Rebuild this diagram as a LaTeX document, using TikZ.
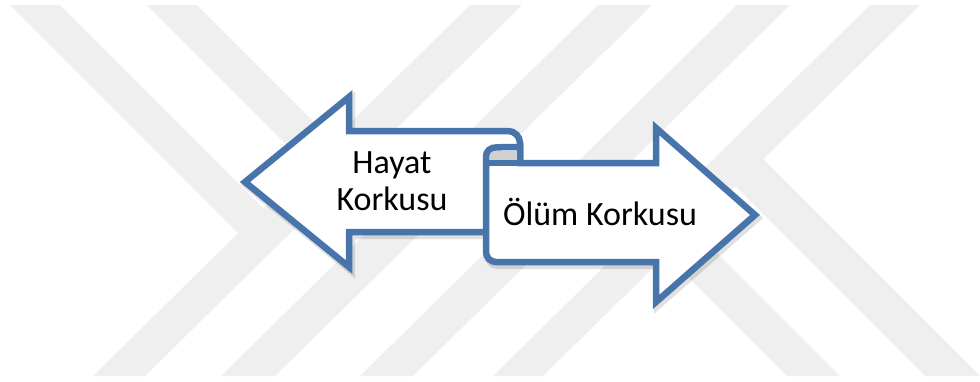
\documentclass[tikz,border=0pt]{standalone}
\usepackage{fontspec}
\setmainfont{Carlito}
\definecolor{wm}{RGB}{239,239,239}
\definecolor{ablue}{RGB}{71,116,171}
\definecolor{rollgray}{RGB}{208,208,208}
\begin{document}
\begin{tikzpicture}[x=1pt,y=-1pt,
  band/.style={fill=wm},
  arrowline/.style={draw=ablue,line width=6.5pt,line join=miter,miter limit=10},
  shadowline/.style={draw=black,opacity=0.12,line width=8pt,line join=miter,miter limit=10},
  lbl/.style={font=\fontsize{34}{40}\selectfont,text=black,inner sep=0pt}]
\useasboundingbox (0,0) rectangle (980,381);
\fill[white] (0,0) rectangle (980,381);
% ---- watermark ----
\begin{scope}
\clip (0,5) rectangle (980,376);
\fill[band] (470,5) -- (522,5) -- (145,376) -- (93,376) -- cycle;
\fill[band] (598,5) -- (652,5) -- (275,376) -- (221,376) -- cycle;
\fill[band] (737,5) -- (790,5) -- (413,376) -- (360,376) -- cycle;
\fill[band] (870,5) -- (920,5) -- (543,376) -- (493,376) -- cycle;
\fill[band] (10,5) -- (60,5) -- (289,234) -- (238,233) -- cycle;
\fill[band] (147,5) -- (197,5) -- (423,231) -- (371,229) -- cycle;
\fill[band] (575,164) -- (628,164) -- (840,376) -- (787,376) -- cycle;
\fill[band] (710,161) -- (763,159) -- (980,376) -- (925,376) -- cycle;
\end{scope}
% ---- shadows ----
\begin{scope}[shift={(2,3)}]
\draw[shadowline] (486,232) -- (349,232) -- (349,267) -- (245,182) -- (349,97) -- (349,131);
\draw[shadowline] (656,163) -- (656,128) -- (755,215) -- (656,302) -- (656,262) -- (496,262)
  .. controls (490.5,262) and (486,257.5) .. (486,252) -- (486,163);
\end{scope}
% ---- left arrow ----
\path[fill=white,arrowline] (520,232) -- (349,232) -- (349,267) -- (245,182) -- (349,97) -- (349,131)
  -- (508,131) .. controls (514.6,131) and (520,136.4) .. (520,143) -- cycle;
% ---- right arrow with roll ----
\path[fill=white] (520,163) -- (656,163) -- (656,128) -- (755,215) -- (656,302) -- (656,262) -- (496,262)
  .. controls (490.5,262) and (486,257.5) .. (486,252) -- (486,157)
  .. controls (486,151) and (490,147.3) .. (497,147.3) -- (520,147) -- cycle;
\fill[rollgray] (489.5,160) -- (489.5,157) .. controls (489.5,153) and (492,151) .. (497,151) -- (516.7,151) -- (516.7,160) -- cycle;
\draw[arrowline] (520,143) -- (520,163) -- (656,163) -- (656,128) -- (755,215) -- (656,302) -- (656,262) -- (496,262)
  .. controls (490.5,262) and (486,257.5) .. (486,252) -- (486,157)
  .. controls (486,151) and (490,147.3) .. (497,147.3) -- (520,147);
\draw[arrowline] (486,163) -- (520,163);
% ---- labels ----
\node[lbl,anchor=base] (hayat) at (392,173) {Hayat};
\node[lbl,anchor=base] (korkusu) at (392,210) {Korkusu};
\node[lbl,anchor=base] (olum) at (600,225) {Ölüm Korkusu};
\end{tikzpicture}
\end{document}
